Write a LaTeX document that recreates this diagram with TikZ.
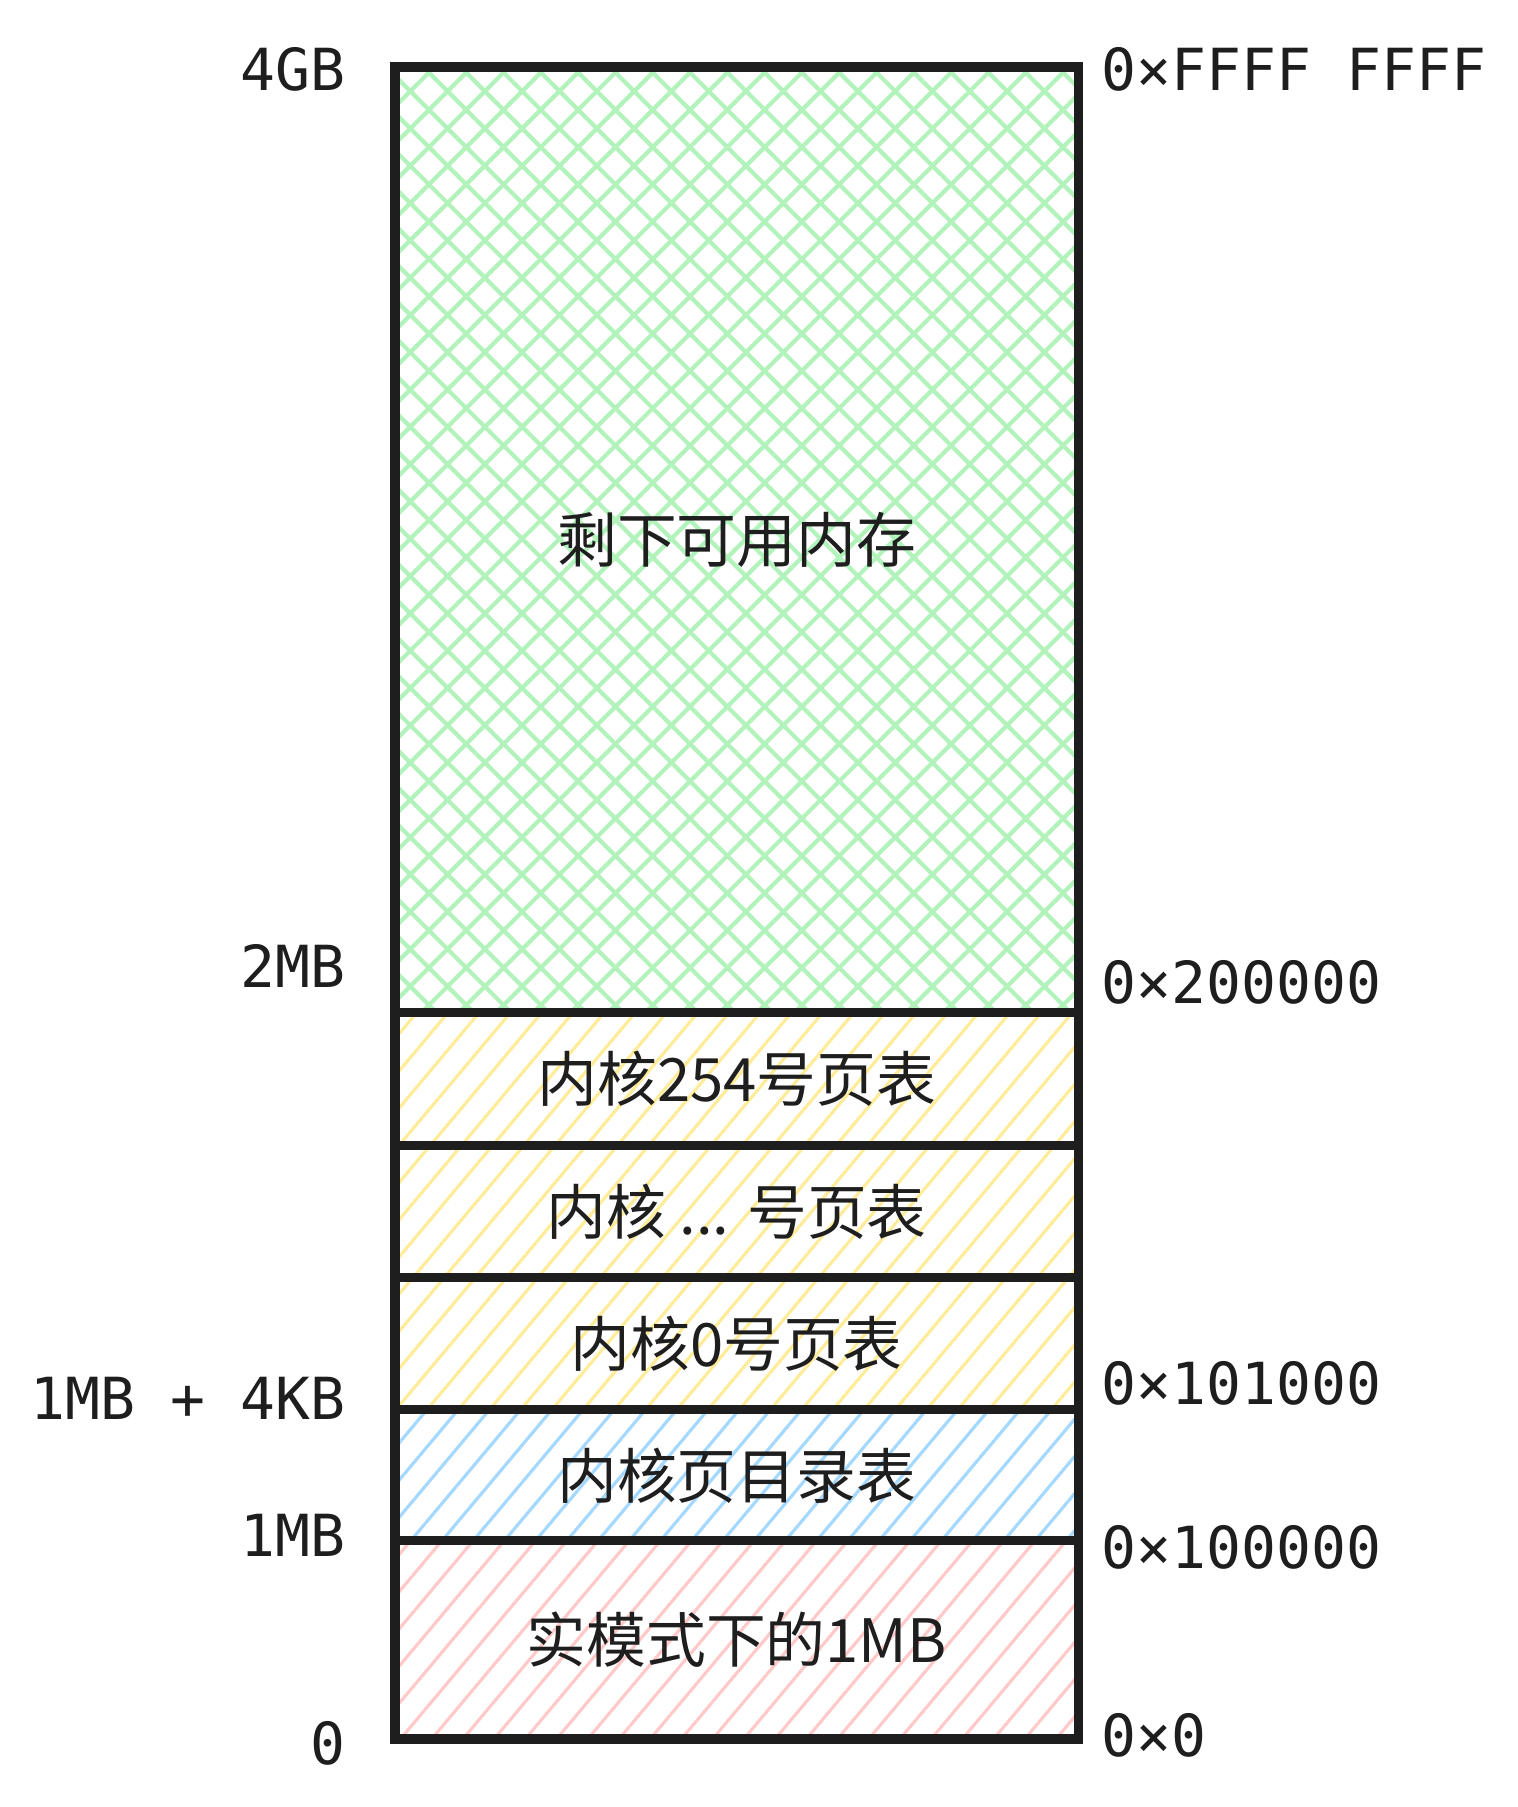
\documentclass[tikz,border=0pt]{standalone}
\usepackage{fontspec}
\usepackage{xcolor}
\usepackage{tikz}
\usetikzlibrary{positioning,patterns.meta}
\newfontfamily\addrfont{DejaVu Sans Mono}
\newfontfamily\cjkfont{Noto Sans CJK SC}
\definecolor{inkblack}{HTML}{1E1E1E}
\definecolor{hatchgreen}{HTML}{B2F2BB}
\definecolor{hatchyellow}{HTML}{FFEC99}
\definecolor{hatchblue}{HTML}{A5D8FF}
\definecolor{hatchred}{HTML}{FFC9C9}

\begin{document}
\begin{tikzpicture}[
    x=0.01cm, y=-0.01cm,
    segbox/.style={rectangle, draw=inkblack, line width=2.6pt, minimum width=6.83cm, inner sep=0pt, outer sep=0pt, align=center, text=inkblack, font=\cjkfont\fontsize{17}{20}\selectfont},
    freebox/.style={segbox, pattern={Hatch[angle=45, distance=7.5pt, line width=1.2pt]}, pattern color=hatchgreen},
    tblbox/.style={segbox, pattern={Lines[angle=50, distance=6.8pt, line width=0.9pt]}, pattern color=hatchyellow},
    dirbox/.style={segbox, pattern={Lines[angle=50, distance=6.8pt, line width=0.9pt]}, pattern color=hatchblue},
    realbox/.style={segbox, pattern={Lines[angle=50, distance=6.8pt, line width=0.9pt]}, pattern color=hatchred},
    addr/.style={inner sep=0pt, text=inkblack, font=\addrfont\fontsize{16.5}{20}\selectfont},
  ]
    \useasboundingbox (0,0) rectangle (1517,1807);

    % Memory segments (top down)
    \node[freebox, minimum height=9.45cm, anchor=north west] (free) at (395,67) {剩下可用内存};
    \node[tblbox, minimum height=1.33cm, below=0pt of free] (pt254) {内核254号页表};
    \node[tblbox, minimum height=1.32cm, below=0pt of pt254] (ptdots) {内核 ... 号页表};
    \node[tblbox, minimum height=1.32cm, below=0pt of ptdots] (pt0) {内核0号页表};
    \node[dirbox, minimum height=1.31cm, below=0pt of pt0] (pgdir) {内核页目录表};
    \node[realbox, minimum height=1.98cm, below=0pt of pgdir] (realmem) {实模式下的1MB};

    % Sizes
    \node[addr, anchor=east] (s4g) at (346,69) {4GB};
    \node[addr, anchor=east] (s2m) at (346,966) {2MB};
    \node[addr, anchor=east] (s1m4k) at (346,1398) {1MB + 4KB};
    \node[addr, anchor=east] (s1m) at (346,1535) {1MB};
    \node[addr, anchor=east] (s0) at (346,1743) {0};

    % Addresses
    \node[addr, anchor=west] (a4g) at (1101,69) {0×FFFF FFFF};
    \node[addr, anchor=west] (a2m) at (1101,982) {0×200000};
    \node[addr, anchor=west] (a1m4k) at (1101,1383) {0×101000};
    \node[addr, anchor=west] (a1m) at (1101,1547) {0×100000};
    \node[addr, anchor=west] (a0) at (1101,1735) {0×0};

  \end{tikzpicture}
\end{document}
